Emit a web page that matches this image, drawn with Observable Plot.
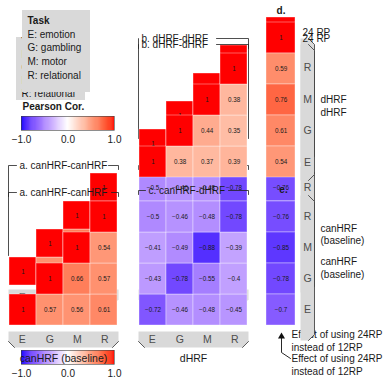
<!DOCTYPE html>
<html><head><meta charset="utf-8">
<script src="https://cdn.jsdelivr.net/npm/d3@7"></script>
<script src="https://cdn.jsdelivr.net/npm/@observablehq/plot@0.6"></script>
<style>
body{margin:0;background:#fff;}
#fig{position:relative;width:389px;height:388px;overflow:hidden;}
#fig svg{position:absolute;}
</style></head><body><div id="fig"></div>
<script>
// ---------- data ----------
const tasks = ["E","G","M","R"];
const rowOrder = ["R","M","G","E"];
const taskLabels = ["E: emotion","G: gambling","M: motor","R: relational"];
// a. canHRF-canHRF (row task -> values for columns E,G,M,R)
const canCanE = [1, 0.57, 0.56, 0.61];
const canCanG = [null, 1, 0.66, 0.57];
const canCanM = [null, null, 1, 0.54];
const canCanR = [null, null, null, 1];
// b. dHRF-dHRF
const dhDhE = [1, 0.38, 0.37, 0.39];
const dhDhG = [null, 1, 0.44, 0.35];
const dhDhM = [null, null, 1, 0.38];
const dhDhR = [null, null, null, 1];
// c. canHRF (rows) - dHRF (columns)
const canDhE = [-0.72, -0.46, -0.48, -0.45];
const canDhG = [-0.43, -0.78, -0.55, -0.4];
const canDhM = [-0.41, -0.49, -0.88, -0.39];
const canDhR = [-0.5, -0.46, -0.48, -0.78];
// d./e. effect of using 24RP instead of 12RP
const rpRowsD = ["24 RP","R","M","G","E"];
const rpDhrf = [1, 0.59, 0.76, 0.61, 0.54];
const rpCanhrf = [-0.76, -0.85, -0.78, -0.7]; // R, M, G, E
const legendTicks = [-1, 0, 1];

// ---------- helpers ----------
const W = 389, H = 388;
const FONT = '"Liberation Sans", Arial, Helvetica, sans-serif';
const fig = document.getElementById("fig");
const colorScale = {type: "linear", domain: [-1, 0, 1], range: ["blue", "white", "red"], interpolate: "lab"};
const fmt = v => v === 1 ? "1" : String(v).replace("-", "\u2212");

function build(rows) {
  const out = [];
  for (const [row, arr] of rows) arr.forEach((v, i) => { if (v != null) out.push({row, col: tasks[i], value: v}); });
  return out;
}
const tblA = build([["E", canCanE], ["G", canCanG], ["M", canCanM], ["R", canCanR]]);
const tblB = build([["E", dhDhE], ["G", dhDhG], ["M", dhDhM], ["R", dhDhR]]);
const tblC = build([["E", canDhE], ["G", canDhG], ["M", canDhM], ["R", canDhR]]);
const tblD = rpRowsD.map((row, i) => ({row, col: "24vs12", value: rpDhrf[i]}));
const tblE = rowOrder.map((row, i) => ({row, col: "24vs12", value: rpCanhrf[i]}));

// panel layout (pixels): main drawing and the offset duplicate drawn underneath
const mainL = {a:{x:8,y:200,w:110,h:125}, b:{x:138,y:52,w:110,h:126}, c:{x:138,y:200,w:110,h:125},
               d:{x:266,y:20,w:29,h:158}, e:{x:266,y:200,w:29,h:125}};
const ghostL = {a:{x:8,y:173,w:110,h:112}, b:{x:138,y:45,w:110,h:112}, c:{x:138,y:173,w:110,h:112},
                d:{x:266,y:17,w:29,h:140}, e:{x:266,y:173,w:29,h:112}};

function panel(data, cols, rows, L) {
  return Plot.plot({
    width: L.w, height: L.h, margin: 0,
    x: {type: "band", domain: cols, axis: null, padding: 0},
    y: {type: "band", domain: rows, axis: null, padding: 0},
    color: colorScale,
    style: {background: "none", left: L.x + "px", top: L.y + "px", overflow: "visible", fontFamily: FONT},
    marks: [
      Plot.cell(data, {x: "col", y: "row", fill: "value", inset: 0, stroke: "#fff", strokeOpacity: 0.45, strokeWidth: 0.8}),
      Plot.text(data, {x: "col", y: "row", text: d => fmt(d.value), fontSize: 6.3, fill: "#1a1a1a"})
    ]
  });
}
function drawPanels(L) {
  fig.appendChild(panel(tblA, tasks, rowOrder, L.a));
  fig.appendChild(panel(tblB, tasks, rowOrder, L.b));
  fig.appendChild(panel(tblC, tasks, rowOrder, L.c));
  fig.appendChild(panel(tblD, ["24vs12"], rpRowsD, L.d));
  fig.appendChild(panel(tblE, ["24vs12"], rowOrder, L.e));
}
function colorbar(left, top) {
  const step = 0.02;
  const stops = d3.range(-1, 1, step);
  return Plot.plot({
    width: 123, height: 30, marginLeft: 15, marginRight: 15, marginTop: 0, marginBottom: 16,
    x: {domain: [-1, 1], ticks: legendTicks, tickFormat: d3.format(".1f"), tickSize: 0, tickPadding: 5, label: null},
    y: {domain: [0, 1], axis: null},
    color: colorScale,
    style: {background: "none", left: left + "px", top: top + "px", overflow: "visible", fontFamily: FONT, fontSize: "10px", color: "#1a1a1a"},
    marks: [
      Plot.rect(stops, {x1: d => d, x2: d => Math.min(1, d + step * 1.6), y1: 0, y2: 1, fill: d => d + step / 2}),
      Plot.frame({stroke: "#444", strokeWidth: 0.6})
    ]
  });
}
function overlay(marks) {
  return Plot.plot({
    width: W, height: H, margin: 0,
    x: {domain: [0, W], axis: null}, y: {domain: [0, H], range: [0, H], axis: null},
    style: {background: "none", left: "0px", top: "0px", fontFamily: FONT, overflow: "visible"},
    marks
  });
}
const T = (x, y, t, o = {}) => Plot.text([{x, y, t}], {x: "x", y: "y", text: "t", fontSize: 10, fill: "#1a1a1a", textAnchor: "start", ...o});
const R = (x1, x2, y1, y2, o = {}) => Plot.rect([{x1, x2, y1, y2}], {x1: "x1", x2: "x2", y1: "y1", y2: "y2", ...o});
const P = (pts, o = {}) => Plot.line(pts, {x: d => d[0], y: d => d[1], stroke: "#333", strokeWidth: 0.8, ...o});
const GRAY = "#d9d9d9", STRIPTXT = "#4d4d4d";
const colC = (L, i, n = 4) => L.x + (i + 0.5) * L.w / n;
const rowC = (L, i, n = 4) => L.y + (i + 0.5) * L.h / n;

function rightStrip(y0, y1, letters, ys) {
  const pts = [[300,y0],[308,y0],[314,y0+6],[314,y1-6],[308,y1],[300,y1]];
  return [P(pts, {fill: GRAY, stroke: "none"}), P(pts.slice(1, 5)),
    ...letters.map((l, i) => T(307, ys[i], l, {textAnchor: "middle", fill: STRIPTXT, fontSize: 10.5}))];
}
function bottomStrip(L, y0, dark = true) {
  const x0 = L.x, x1 = L.x + L.w;
  const pts = [[x0,y0],[x1,y0],[x1,y0+10],[x1-6,y0+16],[x0+6,y0+16],[x0,y0+10]];
  const m = [P(pts, {fill: GRAY, stroke: "none"})];
  if (dark) m.push(P([[x0,y0+10],[x0+6,y0+16]]), P([[x1-6,y0+16],[x1,y0+10]]));
  tasks.forEach((t, i) => m.push(T(colC(L, i), y0 + 8, t, {textAnchor: "middle", fill: STRIPTXT, fontSize: 10.5})));
  return m;
}
function titleBracket(L, y, t0, t1, label, hook = 4) {
  const xr = L.x + L.w;
  return [P([[L.x, y + hook],[L.x, y],[t0 - 3, y]], {stroke: "#222"}),
          P([[t1 + 3, y],[xr, y],[xr, y + hook]], {stroke: "#222"}),
          T(t0, y, label, {fontSize: 10})];
}

// ---------- offset duplicate (underneath) ----------
const gd = ghostL;
fig.appendChild(overlay([
  R(16, 85, 37, 100, {fill: GRAY}),
  T(21, 41, "Task", {fontWeight: "bold"}),
  ...taskLabels.map((t, i) => T(21, 54 + i * 13, t)),
  P([[8,255],[8,165],[16,165]], {stroke: "#222"}),
  P([[108,165],[118,165],[118,169]], {stroke: "#222"}),
  T(19, 165, "a. canHRF-canHRF"),
  ...titleBracket(gd.b, 38, 141, 213, "b. dHRF-dHRF", 100),
  ...titleBracket(gd.c, 165, 148, 225, "c. canHRF-dHRF"),
  T(281, 165, "e.", {fontWeight: "bold", textAnchor: "middle"}),
  ...bottomStrip(gd.a, 289, false),
  ...bottomStrip(gd.c, 289, false),
  ...rightStrip(38, 162, rowOrder, [1,2,3,4].map(i => rowC(gd.d, i, 5))),
  ...rightStrip(166, 292, rowOrder, [0,1,2,3].map(i => rowC(gd.e, i))),
  T(302, 32, "24 RP"),
  T(320, 99, "dHRF"),
  T(320, 234, "canHRF\n(baseline)", {lineHeight: 1.15}),
  T(291, 339.5, "Effect of using 24RP\ninstead of 12RP", {lineHeight: 1.3})
]));
drawPanels(ghostL);

// ---------- main drawing ----------
drawPanels(mainL);
fig.appendChild(colorbar(6, 116));
fig.appendChild(colorbar(6, 350));
const m = mainL;
fig.appendChild(overlay([
  R(22, 90, 10, 92, {fill: GRAY}),
  T(27, 20, "Task", {fontWeight: "bold"}),
  ...taskLabels.map((t, i) => T(27, 34 + i * 13.7, t)),
  T(22, 106, "Pearson Cor.", {fontWeight: "bold"}),
  ...titleBracket(m.a, 192, 19, 108, "a. canHRF-canHRF"),
  ...titleBracket(m.b, 44, 141, 213, "b. dHRF-dHRF"),
  ...titleBracket(m.c, 190, 148, 225, "c. canHRF-dHRF"),
  T(280.5, 10, "d.", {fontWeight: "bold", textAnchor: "middle"}),
  T(283, 189, "e.", {fontWeight: "bold", textAnchor: "middle"}),
  ...rightStrip(44, 180, rowOrder, [1,2,3,4].map(i => rowC(m.d, i, 5))),
  ...rightStrip(195, 340, rowOrder, [0,1,2,3].map(i => rowC(m.e, i))),
  T(302, 38, "24 RP"),
  T(320, 112, "dHRF"),
  T(320, 267, "canHRF\n(baseline)", {lineHeight: 1.3}),
  ...bottomStrip(m.a, 331),
  ...bottomStrip(m.c, 331),
  T(m.a.x + m.a.w / 2, 358, "canHRF (baseline)", {textAnchor: "middle", fontSize: 10.5}),
  T(m.c.x + m.c.w / 2, 358, "dHRF", {textAnchor: "middle", fontSize: 10.5}),
  P([[290,358],[281,352],[281,337]], {stroke: "#111", strokeWidth: 0.9}),
  Plot.dot([{x: 281, y: 336}], {x: "x", y: "y", symbol: "triangle", r: 2.6, fill: "#111", stroke: "none"}),
  T(291, 363.5, "Effect of using 24RP\ninstead of 12RP", {lineHeight: 1.3})
]));
</script></body></html>
